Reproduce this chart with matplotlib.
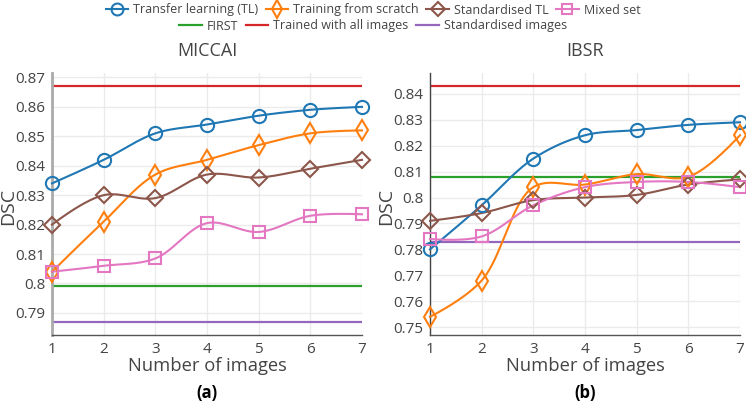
import numpy as np
import matplotlib
matplotlib.use("Agg")
import matplotlib.pyplot as plt
from matplotlib.lines import Line2D

plt.rcParams['font.family'] = ['Open Sans', 'DejaVu Sans']

n_images = [1, 2, 3, 4, 5, 6, 7]

# MICCAI
miccai_tl = [0.834, 0.842, 0.851, 0.854, 0.857, 0.859, 0.860]
miccai_scratch = [0.804, 0.821, 0.837, 0.842, 0.847, 0.851, 0.852]
miccai_std_tl = [0.820, 0.830, 0.829, 0.837, 0.836, 0.839, 0.842]
miccai_mixed = [0.804, 0.806, 0.8085, 0.8205, 0.8175, 0.823, 0.8235]
miccai_first = 0.799
miccai_all = 0.867
miccai_std_img = 0.787

# IBSR
ibsr_tl = [0.780, 0.797, 0.815, 0.824, 0.826, 0.828, 0.829]
ibsr_scratch = [0.754, 0.768, 0.804, 0.805, 0.809, 0.808, 0.824]
ibsr_std_tl = [0.791, 0.794, 0.799, 0.800, 0.801, 0.805, 0.807]
ibsr_mixed = [0.784, 0.785, 0.797, 0.804, 0.806, 0.806, 0.804]
ibsr_first = 0.808
ibsr_all = 0.843
ibsr_std_img = 0.783

series_names = ["Transfer learning (TL)", "Training from scratch", "Standardised TL", "Mixed set"]
ref_names = ["FIRST", "Trained with all images", "Standardised images"]
series_colors = ["#1f77b4", "#ff7f0e", "#8c564b", "#e377c2"]
ref_colors = ["#2ca02c", "#d62728", "#9467bd"]
series_markers = ["o", "d", "D", "s"]
marker_sizes = [9.5, 10, 8, 8.5]

fig = plt.figure(figsize=(7.46, 4.03), dpi=100)
W, H = 746, 403


def ax_at(x0, y0, x1, y1):
    return fig.add_axes([x0 / W, 1 - y1 / H, (x1 - x0) / W, (y1 - y0) / H])


def spline(ax, xs, ys, w_px, h_px):
    xl = ax.get_xlim(); yl = ax.get_ylim()
    px = (np.asarray(xs, float) - xl[0]) / (xl[1] - xl[0]) * w_px
    py = (np.asarray(ys, float) - yl[0]) / (yl[1] - yl[0]) * h_px
    pts = np.column_stack([px, py])
    n = len(pts)
    tangents = []
    for i in range(1, n - 1):
        p0, p1, p2 = pts[i - 1], pts[i], pts[i + 1]
        d1 = p0 - p1
        d2 = p2 - p1
        d1a = np.hypot(*d1) ** 0.5
        d2a = np.hypot(*d2) ** 0.5
        num = (d2a * d2a * d1 - d1a * d1a * d2)
        den1 = 3 * d2a * (d1a + d2a)
        den2 = 3 * d1a * (d1a + d2a)
        tangents.append((p1 + num / den1, p1 - num / den2))
    t = np.linspace(0, 1, 40)[:, None]
    out = []
    a, c, b = pts[0], tangents[0][0], pts[1]
    out.append((1 - t) ** 2 * a + 2 * (1 - t) * t * c + t ** 2 * b)
    for i in range(2, n - 1):
        a = pts[i - 1]; c1 = tangents[i - 2][1]; c2 = tangents[i - 1][0]; b = pts[i]
        out.append((1 - t) ** 3 * a + 3 * (1 - t) ** 2 * t * c1 + 3 * (1 - t) * t ** 2 * c2 + t ** 3 * b)
    a, c, b = pts[n - 2], tangents[n - 3][1], pts[n - 1]
    out.append((1 - t) ** 2 * a + 2 * (1 - t) * t * c + t ** 2 * b)
    curve = np.vstack(out)
    cx = curve[:, 0] / w_px * (xl[1] - xl[0]) + xl[0]
    cy = curve[:, 1] / h_px * (yl[1] - yl[0]) + yl[0]
    return cx, cy


def panel(box, ylim, yticks, ylabels, series, refs, title, sub, ylab_x, lspine):
    x0, y0, x1, y1 = box
    ax = ax_at(*box)
    ax.set_xlim(1, 7)
    ax.set_ylim(*ylim)
    ax.set_xticks(n_images)
    ax.set_yticks(yticks)
    ax.set_yticklabels(ylabels)
    ax.grid(True, color="#ebebeb", lw=1)
    ax.set_axisbelow(True)
    for s in ["top", "right"]:
        ax.spines[s].set_visible(False)
    ax.spines["bottom"].set_color("#555555")
    ax.spines["bottom"].set_linewidth(1)
    ax.spines["left"].set_color(lspine[0])
    ax.spines["left"].set_linewidth(lspine[1])
    ax.tick_params(length=0, labelsize=11, colors="#444444", pad=5)
    ax.set_xlabel("Number of images", fontsize=13.2, color="#444444", labelpad=0)
    ax.set_ylabel("DSC", fontsize=14, color="#444444")
    ax.yaxis.set_label_coords(ylab_x / W, 1 - ((y0 + y1) / 2 + 2) / H, transform=fig.transFigure)
    for v, c in zip(refs, ref_colors):
        ax.axhline(v, color=c, lw=1.6, zorder=2)
    for ys, c, m, ms in zip(series, series_colors, series_markers, marker_sizes):
        cx, cy = spline(ax, n_images, ys, x1 - x0, y1 - y0)
        ax.plot(cx, cy, color=c, lw=1.5, zorder=3, clip_on=False)
        ax.plot(n_images, ys, ls="none", marker=m, ms=ms, mfc="none", mec=c, mew=1.5,
                zorder=4, clip_on=False)
    fig.text(((x0 + x1) / 2) / W, 1 - 51 / H, title, ha="center", va="center",
             fontsize=13, color="#444444")
    fig.text(((x0 + x1) / 2) / W, 1 - 393 / H, sub, ha="center", va="center",
             fontsize=12, fontweight="bold")
    return ax


panel((52, 73, 362, 335), (0.7825, 0.8715),
      [0.79, 0.80, 0.81, 0.82, 0.83, 0.84, 0.85, 0.86, 0.87],
      ["0.79", "0.8", "0.81", "0.82", "0.83", "0.84", "0.85", "0.86", "0.87"],
      [miccai_tl, miccai_scratch, miccai_std_tl, miccai_mixed],
      [miccai_first, miccai_all, miccai_std_img], "MICCAI", "(a)", 17, ("#aaaaaa", 2))

panel((430, 73, 740, 335), (0.747, 0.848),
      [0.75, 0.76, 0.77, 0.78, 0.79, 0.80, 0.81, 0.82, 0.83, 0.84],
      ["0.75", "0.76", "0.77", "0.78", "0.79", "0.8", "0.81", "0.82", "0.83", "0.84"],
      [ibsr_tl, ibsr_scratch, ibsr_std_tl, ibsr_mixed],
      [ibsr_first, ibsr_all, ibsr_std_img], "IBSR", "(b)", 395, ("#444444", 1))

h1 = [Line2D([], [], color=c, lw=1.5, marker=m, ms=ms * 0.9, mfc="none", mew=1.5)
      for c, m, ms in zip(series_colors, series_markers, marker_sizes)]
h2 = [Line2D([], [], color=c, lw=1.6) for c in ref_colors]
leg_kw = dict(frameon=False, fontsize=9, handlelength=1.8, handletextpad=0.4,
              columnspacing=0.6, labelcolor="#444444")
fig.legend(h1, series_names, loc="center", bbox_to_anchor=(373 / W, 1 - 10 / H), ncol=4, **leg_kw)
fig.legend(h2, ref_names, loc="center", bbox_to_anchor=(373 / W, 1 - 26 / H), ncol=3, **leg_kw)

fig.savefig("out.png", dpi=100)
